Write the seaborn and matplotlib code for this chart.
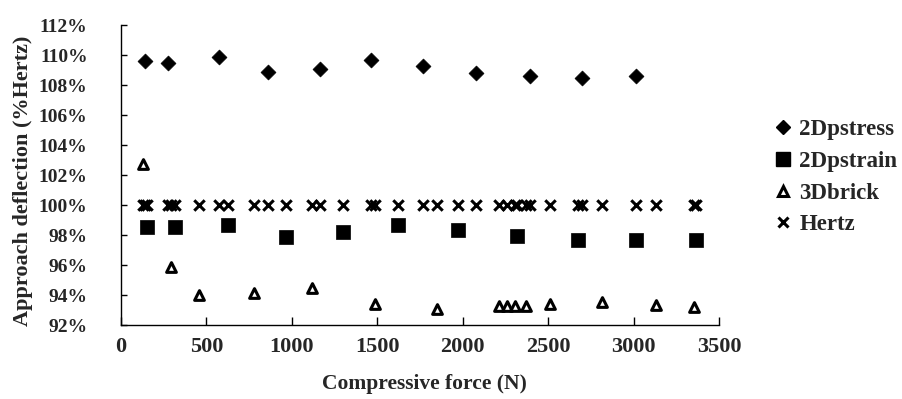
import numpy as np
import pandas as pd
import seaborn as sns
from matplotlib import pyplot as plt
from matplotlib.ticker import FuncFormatter, MultipleLocator
from matplotlib.lines import Line2D

# values (force in N, deflection in % of Hertz)
force_stress = [140, 277, 572, 861, 1162, 1464, 1766, 2077, 2393, 2697, 3012]
defl_stress = [109.6, 109.5, 109.9, 108.85, 109.1, 109.65, 109.3, 108.8, 108.6, 108.5, 108.6]

force_strain = [150, 315, 627, 964, 1299, 1624, 1974, 2320, 2675, 3012, 3363]
defl_strain = [98.55, 98.55, 98.7, 97.9, 98.2, 98.7, 98.35, 97.95, 97.7, 97.7, 97.7]

force_brick = [127, 292, 456, 779, 1117, 1488, 1850, 2214, 2260, 2307, 2371, 2512, 2817, 3129, 3353]
defl_brick = [102.75, 95.9, 94.0, 94.15, 94.45, 93.4, 93.1, 93.3, 93.3, 93.3, 93.3, 93.4, 93.55, 93.35, 93.2]

force_hertz = [127, 140, 150, 277, 292, 315, 456, 572, 627, 779, 861, 964, 1117, 1162, 1299,
               1464, 1488, 1624, 1766, 1850, 1974, 2077, 2214, 2260, 2307, 2320, 2371, 2393,
               2512, 2675, 2697, 2817, 3012, 3129, 3353, 3363]
defl_hertz = [100.0] * len(force_hertz)

series_names = ['2Dpstress', '2Dpstrain', '3Dbrick', 'Hertz']

sns.set_theme(style='white')
plt.rcParams['font.family'] = ['Liberation Serif', 'DejaVu Serif']
plt.rcParams['font.weight'] = 'bold'

fig = plt.figure(figsize=(9.02, 3.99), dpi=100)
ax = fig.add_axes([121 / 902, 1 - 325 / 399, 598 / 902, 300 / 399])

sns.scatterplot(x=force_stress, y=defl_stress, marker='D', s=7.6 ** 2, color='black',
                edgecolor='black', linewidth=0.5, ax=ax)
sns.scatterplot(x=force_strain, y=defl_strain, marker='s', s=9.4 ** 2, color='black',
                edgecolor='black', linewidth=0.5, ax=ax)
sns.scatterplot(x=force_brick, y=defl_brick, marker='^', s=7.0 ** 2, facecolor='white',
                edgecolor='black', linewidth=2.2, ax=ax)
sns.scatterplot(x=force_hertz, y=defl_hertz, marker='x', s=7.5 ** 2, color='black',
                linewidth=2.2, ax=ax)

ax.set_xlim(0, 3500)
ax.set_ylim(92, 112)
ax.xaxis.set_major_locator(MultipleLocator(500))
ax.yaxis.set_major_locator(MultipleLocator(2))
ax.yaxis.set_major_formatter(FuncFormatter(lambda v, p: '%d%%' % round(v)))

for side in ['top', 'right']:
    ax.spines[side].set_visible(False)
for side in ['left', 'bottom']:
    ax.spines[side].set_color('black')
    ax.spines[side].set_linewidth(1.0)

ax.tick_params(axis='y', direction='in', length=4, width=1, color='black', left=True,
               pad=24, labelsize=14)
ax.tick_params(axis='x', direction='in', length=6, width=1, color='black', bottom=True,
               pad=9, labelsize=16)

ax.set_xlabel('Compressive force (N)', fontsize=15.5, fontweight='bold')
ax.set_ylabel('Approach deflection (%Hertz)', fontsize=16, fontweight='bold')
ax.xaxis.set_label_coords(0.508, -0.165)
ax.yaxis.set_label_coords(-0.147, 0.48)

handles = [
    Line2D([], [], linestyle='none', marker='D', markersize=7.6, color='black'),
    Line2D([], [], linestyle='none', marker='s', markersize=9.4, color='black'),
    Line2D([], [], linestyle='none', marker='^', markersize=7.0, markerfacecolor='white',
           markeredgecolor='black', markeredgewidth=2.2),
    Line2D([], [], linestyle='none', marker='x', markersize=7.5, color='black',
           markeredgewidth=2.2),
]
fig.legend(handles, series_names, loc='upper left', bbox_to_anchor=(774 / 902, 1 - 119 / 399),
           frameon=False, fontsize=16.5, handlelength=0.8, handletextpad=0.3, labelspacing=0.47,
           borderaxespad=0, borderpad=0)

fig.savefig('out.png', dpi=100)
